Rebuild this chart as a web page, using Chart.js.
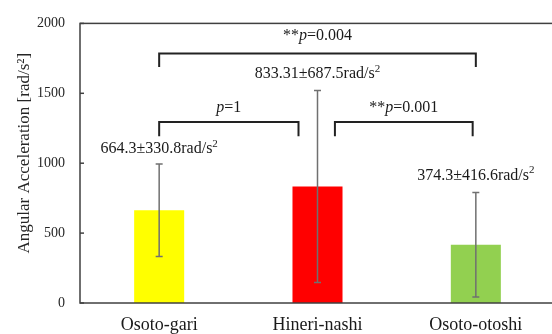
<!DOCTYPE html>
<html lang="en">
<head>
  <meta charset="UTF-8">
  <title>Angular Acceleration</title>
  <style>
    html, body { margin: 0; padding: 0; background: #fff; overflow: hidden; }
    #wrap { width: 555px; height: 334px; }
  </style>
</head>
<body>
  <div id="wrap"><canvas id="grafico"></canvas></div>

  <script src="https://cdn.jsdelivr.net/npm/chart.js"></script>
  <script>
    // dados
    const categorias = ['Osoto-gari', 'Hineri-nashi', 'Osoto-otoshi'];
    const medias = [664.3, 833.31, 416.6];
    const desvios = [330.8, 687.5, 374.3];
    const cores = ['#ffff00', '#ff0000', '#92d050'];
    const rotulos = ['664.3±330.8rad/s²', '833.31±687.5rad/s²', '374.3±416.6rad/s²'];
    const rotuloY = [1100, 1636, 912];
    const yTicks = [0, 500, 1000, 1500, 2000];
    const tituloY = 'Angular Acceleration [rad/s²]';

    // comparações entre golpes (posição x em índice de categoria, y em rad/s²)
    const compDe = [0, 0, 1.11];
    const compAte = [2, 0.88, 1.98];
    const compAltura = [1785, 1295, 1295];
    const compPerna = [1688, 1193, 1193];
    const compTextoY = [1910, 1399, 1399];
    const compEstrelas = ['**', '', '**'];
    const compValor = ['=0.004', '=1', '=0.001'];

    const FONTE = '"Liberation Serif", "Times New Roman", serif';

    function fontePara(p) {
      if (p.sup) return '11px ' + FONTE;
      return (p.it ? 'italic ' : '') + '16px ' + FONTE;
    }

    // desenha texto com partes em itálico / sobrescrito, centrado em cx
    function textoMisto(ctx, partes, cx, cy) {
      let total = 0;
      partes.forEach(p => {
        ctx.font = fontePara(p);
        p.w = ctx.measureText(p.t).width;
        total += p.w;
      });
      let px = cx - total / 2;
      ctx.textAlign = 'left';
      ctx.textBaseline = 'middle';
      partes.forEach(p => {
        ctx.font = fontePara(p);
        ctx.fillText(p.t, px, p.sup ? cy - 5 : cy);
        px += p.w;
      });
    }

    const extras = {
      id: 'extras',
      afterDatasetsDraw(chart) {
        const { ctx, chartArea: a, scales: { x, y } } = chart;
        ctx.save();

        // moldura e ticks internos
        ctx.strokeStyle = '#404040';
        ctx.lineWidth = 1.5;
        ctx.strokeRect(a.left, a.top, a.right - a.left, a.bottom - a.top);
        yTicks.forEach(v => {
          const py = y.getPixelForValue(v);
          ctx.beginPath();
          ctx.moveTo(a.left, py);
          ctx.lineTo(a.left + 4, py);
          ctx.stroke();
        });

        // barras de erro
        ctx.strokeStyle = '#707070';
        ctx.lineWidth = 1.5;
        medias.forEach((m, i) => {
          const px = x.getPixelForValue(i);
          const topo = y.getPixelForValue(m + desvios[i]);
          const base = y.getPixelForValue(m - desvios[i]);
          ctx.beginPath();
          ctx.moveTo(px, topo); ctx.lineTo(px, base);
          ctx.moveTo(px - 3.5, topo); ctx.lineTo(px + 3.5, topo);
          ctx.moveTo(px - 3.5, base); ctx.lineTo(px + 3.5, base);
          ctx.stroke();
        });

        // colchetes
        ctx.strokeStyle = '#222';
        ctx.lineWidth = 2;
        compDe.forEach((d, i) => {
          const x1 = x.getPixelForValue(d);
          const x2 = x.getPixelForValue(compAte[i]);
          const yt = y.getPixelForValue(compAltura[i]);
          const yp = y.getPixelForValue(compPerna[i]);
          ctx.beginPath();
          ctx.moveTo(x1, yp); ctx.lineTo(x1, yt); ctx.lineTo(x2, yt); ctx.lineTo(x2, yp);
          ctx.stroke();
        });

        // textos
        ctx.fillStyle = '#1a1a1a';
        compDe.forEach((d, i) => {
          const cx = (x.getPixelForValue(d) + x.getPixelForValue(compAte[i])) / 2;
          const partes = [];
          if (compEstrelas[i]) partes.push({ t: compEstrelas[i] });
          partes.push({ t: 'p', it: true });
          partes.push({ t: compValor[i] });
          textoMisto(ctx, partes, cx, y.getPixelForValue(compTextoY[i]));
        });
        rotulos.forEach((r, i) => {
          const [base] = r.split('²');
          textoMisto(ctx, [{ t: base }, { t: '2', sup: true }],
            x.getPixelForValue(i), y.getPixelForValue(rotuloY[i]));
        });

        // título do eixo y
        ctx.translate(25, (a.top + a.bottom) / 2 - 10);
        ctx.rotate(-Math.PI / 2);
        ctx.font = '17px ' + FONTE;
        ctx.textAlign = 'center';
        ctx.textBaseline = 'middle';
        ctx.fillStyle = '#262626';
        ctx.fillText(tituloY, 0, 0);

        ctx.restore();
      }
    };

    new Chart(document.getElementById('grafico'), {
      type: 'bar',
      data: {
        labels: categorias,
        datasets: [{
          data: medias,
          backgroundColor: cores,
          borderWidth: 0,
          barPercentage: 0.316,
          categoryPercentage: 1
        }]
      },
      options: {
        responsive: true,
        maintainAspectRatio: false,
        animation: false,
        layout: { padding: { top: 17, left: 0, right: 0, bottom: 0 } },
        plugins: { legend: { display: false }, tooltip: { enabled: false } },
        scales: {
          x: {
            grid: { display: false, drawTicks: false },
            border: { display: false },
            ticks: { color: '#1a1a1a', padding: 11, font: { family: FONTE, size: 18 } },
            afterFit: s => { s.height = 31; }
          },
          y: {
            min: 0,
            max: 2000,
            grid: { display: false, drawTicks: false },
            border: { display: false },
            afterBuildTicks: s => { s.ticks = yTicks.map(v => ({ value: v })); },
            ticks: {
              color: '#262626',
              padding: 15,
              font: { family: FONTE, size: 14 },
              callback: v => String(v)
            },
            afterFit: s => { s.width = 80; }
          }
        }
      },
      plugins: [extras]
    });
  </script>
</body>
</html>
